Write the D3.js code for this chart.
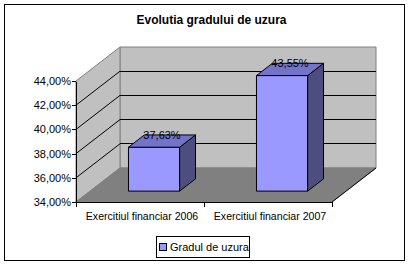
<!DOCTYPE html>
<html>
<head>
<meta charset="utf-8">
<script src="https://cdn.jsdelivr.net/npm/d3@7"></script>
<style>
  body { margin: 0; background: #fff; }
  text { font-family: "Liberation Sans", Arial, sans-serif; }
</style>
</head>
<body>
<script>
// data
const categories = ["Exercitiul financiar 2006", "Exercitiul financiar 2007"];
const values = [37.63, 43.55];
const valueLabels = ["37,63%", "43,55%"];
const yTicks = [34, 36, 38, 40, 42, 44];
const tickLabels = ["34,00%", "36,00%", "38,00%", "40,00%", "42,00%", "44,00%"];
const seriesName = "Gradul de uzura";
const title = "Evolutia gradului de uzura";

var svg = d3.select("body").append("svg")
    .attr("width", 410)
    .attr("height", 265);

// chart frame
svg.append("rect")
    .attr("x", 4.5).attr("y", 4.5)
    .attr("width", 400).attr("height", 256)
    .attr("fill", "#fff").attr("stroke", "#000");

svg.append("text")
    .attr("x", 211.5).attr("y", 24)
    .attr("text-anchor", "middle")
    .attr("font-size", 12).attr("font-weight", "bold")
    .text(title);

var x = d3.scaleBand().domain(categories).range([76, 332]);
var y = d3.scaleLinear().domain([34, 44]).range([202, 81]);

// depth of the 3d box
const DX = 44, DY = 34;
const P = (px, v, z) => [px + z * DX, y(v) - z * DY];
const poly = pts => "M" + pts.map(p => p.join(",")).join("L") + "Z";

var x0 = x.range()[0], x1 = x.range()[1];
var vmin = y.domain()[0], vmax = y.domain()[1];

// walls + floor
svg.append("path")
    .attr("d", poly([P(x0, vmax, 1), P(x1, vmax, 1), P(x1, vmin, 1), P(x0, vmin, 1)]))
    .attr("fill", "#c0c0c0").attr("stroke", "#808080");
svg.append("path")
    .attr("d", poly([P(x0, vmax, 0), P(x0, vmax, 1), P(x0, vmin, 1), P(x0, vmin, 0)]))
    .attr("fill", "#c0c0c0").attr("stroke", "#808080");
svg.append("path")
    .attr("d", poly([P(x0, vmin, 0), P(x0, vmin, 1), P(x1, vmin, 1), P(x1, vmin, 0)]))
    .attr("fill", "#808080").attr("stroke", "#808080");
svg.append("path")
    .attr("d", "M" + P(x1, vmin, 1).join(",") + "L" + P(x1, vmin, 0).join(","))
    .attr("stroke", "#000").attr("fill", "none");

// gridlines on back and side wall
var grid = svg.append("g").attr("stroke", "#000").attr("fill", "none");
yTicks.filter(t => t > vmin && t < vmax).forEach(t => {
  grid.append("path").attr("d", "M" + P(x0, t, 0).join(",") + "L" + P(x0, t, 1).join(","));
  grid.append("path").attr("d", "M" + P(x0, t, 1).join(",") + "L" + P(x1, t, 1).join(","))
      .attr("shape-rendering", "crispEdges");
});

// y axis
var yAxis = svg.append("g")
    .attr("transform", "translate(" + x0 + ",0)")
    .call(d3.axisLeft(y).tickValues(yTicks).tickFormat((d, i) => tickLabels[i])
      .tickSize(4).tickSizeOuter(0).tickPadding(1))
    .attr("shape-rendering", "crispEdges");
yAxis.selectAll("text")
    .attr("font-size", 11)
    .attr("font-family", "'Liberation Sans', Arial, sans-serif")
    .attr("fill", "#000");
yAxis.selectAll("line, path").attr("stroke", "#000");

// x axis
var xAxis = svg.append("g")
    .attr("transform", "translate(0," + y(vmin) + ")")
    .call(d3.axisBottom(x).tickSize(0).tickPadding(0))
    .attr("shape-rendering", "crispEdges");
xAxis.select(".domain").attr("stroke", "#000");
xAxis.selectAll("text")
    .attr("font-size", 10.6)
    .attr("font-family", "'Liberation Sans', Arial, sans-serif")
    .attr("fill", "#000")
    .attr("dx", 2).attr("dy", 0).attr("y", 18);
xAxis.selectAll(".edge")
    .data([x0].concat(categories.map(c => x(c) + x.bandwidth())))
    .enter().append("line")
    .attr("x1", d => d + 0.5).attr("x2", d => d + 0.5)
    .attr("y1", 0).attr("y2", 5)
    .attr("stroke", "#000");

// bars
const z0 = 0.32, z1 = 0.68;
var bars = svg.append("g").attr("stroke", "#000").attr("stroke-width", 1);
categories.forEach((c, i) => {
  var cx = x(c) + x.bandwidth() / 2;
  var w = x.bandwidth() / 2.5;
  var xl = cx - w / 2, xr = cx + w / 2, v = values[i];
  bars.append("path")
      .attr("d", poly([P(xl, vmin, z0), P(xr, vmin, z0), P(xr, v, z0), P(xl, v, z0)]))
      .attr("fill", "#9999ff");
  bars.append("path")
      .attr("d", poly([P(xr, vmin, z0), P(xr, vmin, z1), P(xr, v, z1), P(xr, v, z0)]))
      .attr("fill", "#4d4d80");
  bars.append("path")
      .attr("d", poly([P(xl, v, z0), P(xr, v, z0), P(xr, v, z1), P(xl, v, z1)]))
      .attr("fill", "#7373cc");
  svg.append("text")
      .attr("x", cx + 0.5 * DX)
      .attr("y", y(v) - z1 * DY + 4)
      .attr("text-anchor", "middle")
      .attr("font-size", 11)
      .text(valueLabels[i]);
});

// legend
var legend = svg.append("g");
legend.append("rect")
    .attr("x", 156.5).attr("y", 236.5)
    .attr("width", 93).attr("height", 21)
    .attr("fill", "#fff").attr("stroke", "#000");
legend.append("rect")
    .attr("x", 159.5).attr("y", 243.5)
    .attr("width", 7).attr("height", 7)
    .attr("fill", "#9999ff").attr("stroke", "#000");
legend.append("text")
    .attr("x", 170).attr("y", 251)
    .attr("font-size", 11)
    .text(seriesName);
</script>
</body>
</html>
